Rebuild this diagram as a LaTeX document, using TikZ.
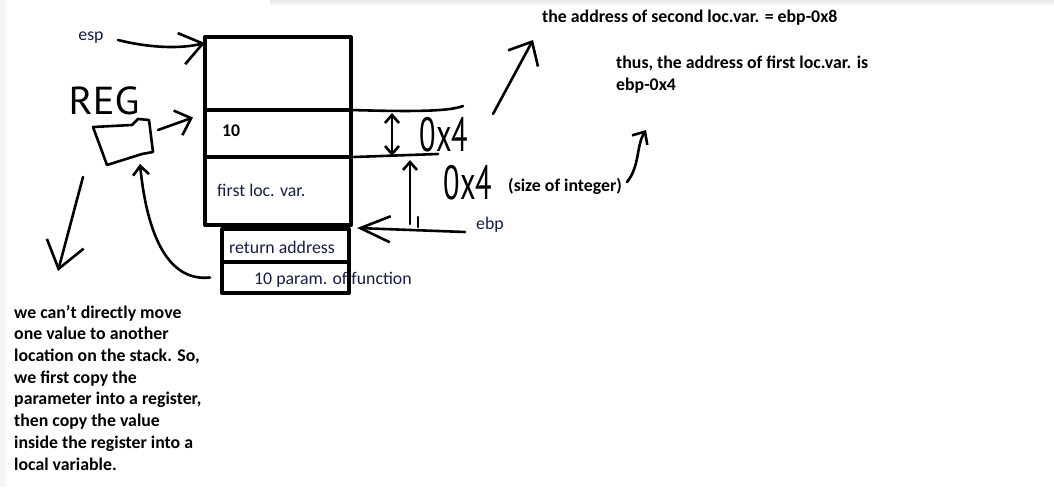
\documentclass[tikz,border=0pt]{standalone}
\usepackage{fontspec}
\setmainfont{Carlito}
\newfontfamily\handfont{PT Sans}
\usetikzlibrary{positioning, arrows.meta}
\definecolor{labelblue}{RGB}{22,28,72}

\begin{document}
\begin{tikzpicture}[
  x=1pt, y=-1pt,
  line cap=round, line join=round,
  every node/.style={inner sep=0, font=\fontsize{17.8}{21.7}\selectfont},
  stackbox/.style={draw, line width=4pt, outer sep=0, minimum width=146pt},
  lowbox/.style={draw, line width=4pt, outer sep=0, minimum width=127pt},
  boxtext/.style={text=labelblue, anchor=base west},
  note/.style={font=\fontsize{17.8}{21.7}\selectfont\bfseries, anchor=base west, align=left},
  handtext/.style={font=\handfont\fontsize{#1}{#1}\selectfont, xscale=0.63, transform shape},
  hand/.style={line width=2.6pt},
  barbed/.style 2 args={-{Straight Barb[length=#1, width=#2]}}
]
\useasboundingbox (0,0) rectangle (1054,487);
\fill[top color=gray!18, bottom color=white] (270,0) rectangle (1054,6);
\fill[gray!7] (0,0) rectangle (6,487);

% stack frame, top to bottom
\node[stackbox, minimum height=73pt, anchor=north west] (box1) at (205,37) {};
\node[stackbox, minimum height=47pt, below=0pt of box1] (box2) {};
\node[stackbox, minimum height=68pt, below=0pt of box2] (box3) {};
\node[lowbox, minimum height=33pt, below right=4pt and 17pt of box3.south west] (box4) {};
\node[boxtext] (param) at (254,284) {10 param. of function};
\node[lowbox, minimum height=31pt, below=0pt of box4] (box5) {};

\node[note] (ten) at (222,136) {10};
\node[boxtext] (locvar) at (217,196) {first loc. var.};
\node[boxtext] (retaddr) at (229,253) {return address};

% labels
\node[text=labelblue, anchor=base] (esp) at (91,41) {esp};
\node[text=labelblue, anchor=base] (ebp) at (490,229) {ebp};
\node[note] (second) at (542,23) {the address of second loc.var. = ebp-0x8};
\node[note] (first) at (616,90) {thus, the address of first loc.var. is\\ebp-0x4};
\node[note] (intsize) at (508,191) {(size of integer)};
\node[note] (why) at (14,470) {we can't directly move\\one value to another\\location on the stack. So,\\we first copy the\\parameter into a register,\\then copy the value\\inside the register into a\\local variable.};
\node[handtext=39, xscale=1.65] (reg) at (104,101) {REG};
\node[handtext=48] (offa) at (444,135) {0x4};
\node[handtext=48] (offb) at (468,183) {0x4};

% register
\draw[hand] (93,127) -- (132,125) -- (138,119) -- (149,120) -- (153,152)
  -- (142,154) -- (107,165) -- cycle;
\coordinate (regout) at (158,130);
\coordinate (regin) at (140,164);

% arrows
\coordinate (esptail) at (118,40);
\draw[hand, barbed={22pt}{32pt}] (esptail) .. controls (150,48) and (180,49) .. ([yshift=-6pt]box1.north west);
\draw[hand, barbed={14pt}{26pt}] (regout) -- ([shift={(-12pt,16pt)}]box2.west);
\coordinate (paramtail) at ([xshift=-12pt]box5.west);
\draw[hand, barbed={9pt}{16pt}] (paramtail) .. controls (168,282) and (147,235) .. (regin);
\coordinate (downtail) at (83,177);
\coordinate (downhead) at (58,271);
\draw[hand, barbed={26pt}{38pt}] (downtail) -- (downhead);

% offsets from ebp
\coordinate (topend) at (463,106);
\coordinate (midend) at (438,154);
\draw[hand] (box2.north east) .. controls (420,112) and (450,111) .. (topend);
\draw[hand] ([xshift=3pt]box3.north east) -- (midend);
\coordinate (upa) at (392,113);
\coordinate (downa) at (392,156);
\draw[hand, {Straight Barb[length=8pt, width=14pt]}-{Straight Barb[length=8pt, width=14pt]}] (upa) -- (downa);
\coordinate (upb) at (410,160);
\coordinate (downb) at (410,224);
\draw[hand, {Straight Barb[length=8pt, width=14pt]}-] (upb) -- (downb);
\draw[hand] (418,217) -- (418,227);
\coordinate (ebptail) at (465,232);
\draw[hand, barbed={30pt}{26pt}] (ebptail) -- ([shift={(6pt,-3pt)}]box3.south east);

% pointers to the notes
\coordinate (sectail) at (493,114);
\coordinate (sechead) at (533,40);
\draw[hand, barbed={19pt}{34pt}] (sectail) -- (sechead);
\coordinate (inttail) at (627,182);
\coordinate (inthead) at (646,130);
\draw[hand, barbed={10pt}{18pt}] (inttail) .. controls (640,166) and (636,146) .. (inthead);
\end{tikzpicture}
\end{document}
